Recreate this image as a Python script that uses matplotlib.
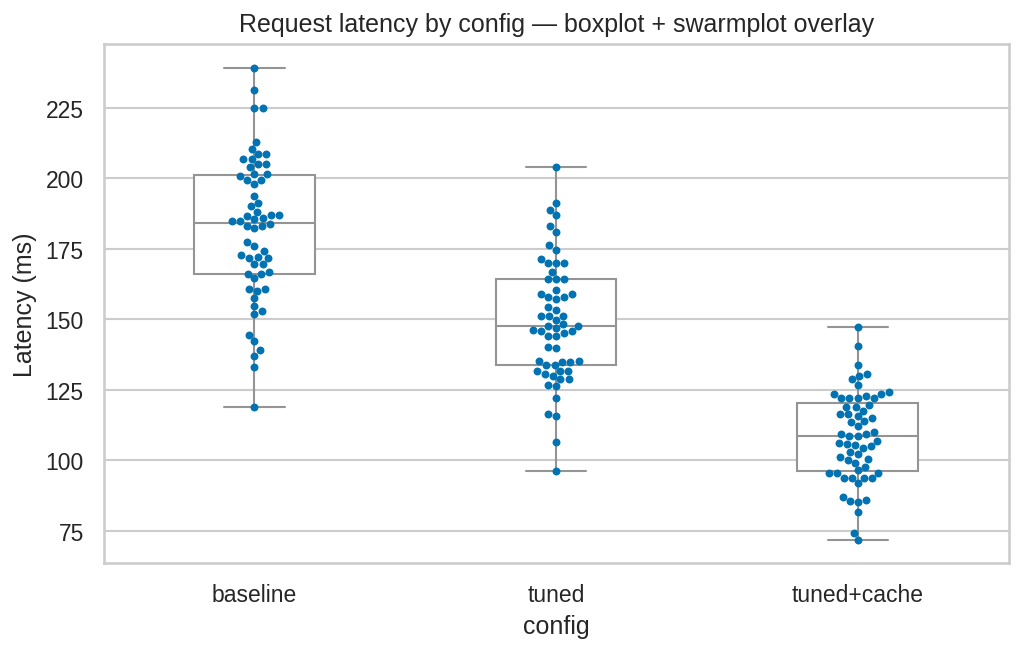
import matplotlib
matplotlib.use("Agg")
import matplotlib.pyplot as plt
import seaborn as sns
import pandas as pd

categories = ["baseline", "tuned", "tuned+cache"]

baseline = [239.3, 231.4, 225.0, 225.0, 212.9, 210.4, 208.5, 208.5, 206.8, 206.8,
            205.0, 205.0, 204.0, 201.6, 201.6, 200.8, 199.5, 199.5, 198.0,
            193.7, 191.3, 190.1, 188.1, 187.0, 187.0, 186.6, 186.0, 185.4, 184.8,
            184.8, 183.8, 183.2, 183.2, 182.2,
            177.3, 175.8, 174.1, 172.9, 172.2, 171.7, 171.7, 169.6, 169.6, 166.9,
            166.2, 166.2, 164.5, 160.7, 160.7, 160.0, 157.4, 154.6, 152.9, 151.7,
            144.3, 142.2, 139.1, 136.9, 133.0, 118.8]

tuned = [204.0, 191.2, 188.8, 186.9, 183.1, 181.1, 176.4, 174.7, 171.3,
         169.9, 169.9, 169.9, 166.7, 164.2, 164.2, 164.2, 160.4, 159.1, 159.1,
         157.8, 157.8, 157.1, 154.2, 153.1, 151.2, 151.2, 151.2, 149.8,
         148.3, 147.7, 147.5, 146.8, 146.3, 145.7, 145.9, 145.0, 144.0, 143.9,
         140.3, 139.9,
         135.0, 135.0, 133.7, 133.7, 134.9, 134.9, 131.5, 130.5, 129.9, 131.5,
         131.5, 128.7, 128.7, 126.8, 126.3, 122.2, 116.3, 115.5, 106.6, 96.1]

tuned_cache = [147.1, 140.6, 133.6, 130.4, 129.7, 128.7, 126.8, 124.3, 123.3, 123.3,
               122.8, 121.9, 121.9, 121.9, 121.9, 119.7, 118.9, 118.9, 117.6, 116.2,
               116.2, 115.5, 115.0,
               113.5, 113.8, 112.0, 109.2, 108.6, 108.6, 109.2, 110.1,
               106.7, 106.2, 105.6, 105.3, 104.4, 104.9, 103.0, 102.2, 101.2, 100.3,
               100.0, 99.1, 97.7,
               95.6, 93.8, 96.4, 93.8, 95.6, 93.8, 93.8, 95.6, 91.8,
               87.0, 85.5, 85.0, 85.8, 81.7, 74.3, 71.8]

df = pd.DataFrame({
    "config": [categories[0]] * len(baseline) + [categories[1]] * len(tuned)
              + [categories[2]] * len(tuned_cache),
    "latency": baseline + tuned + tuned_cache,
})

sns.set_theme(style="whitegrid")
plt.rcParams["font.family"] = ["Liberation Sans", "DejaVu Sans"]

fig, ax = plt.subplots(figsize=(6.84, 4.333), dpi=150)
sns.boxplot(data=df, x="config", y="latency", order=categories, width=0.4,
            color="white", linecolor="0.58", linewidth=1, showfliers=False, ax=ax)
sns.swarmplot(data=df, x="config", y="latency", order=categories,
              color="#0173B2", size=3.8, ax=ax)

ax.set_title("Request latency by config — boxplot + swarmplot overlay")
ax.set_xlabel("config")
ax.set_ylabel("Latency (ms)")
ax.set_yticks([75, 100, 125, 150, 175, 200, 225])
fig.subplots_adjust(left=0.101, right=0.983, top=0.931, bottom=0.132)
fig.savefig("out.png", dpi=150)
